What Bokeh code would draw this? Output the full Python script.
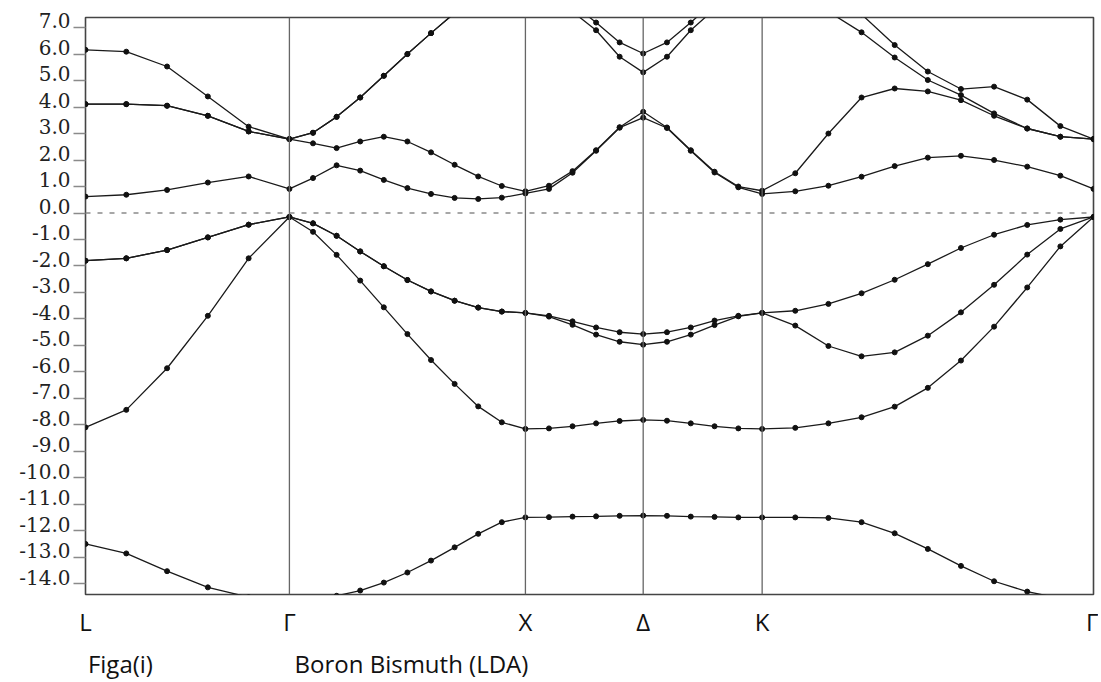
import numpy as np
from bokeh.plotting import figure
from bokeh.models import (Range1d, FixedTicker, PrintfTickFormatter, Span, LinearAxis,
                          CustomJSTickFormatter)
from bokeh.embed import file_html
from bokeh.resources import INLINE

# ---------------- data ----------------
K_LABELS = ["L", "Γ", "X", "Δ", "K", "Γ"]
K_POS = [0.0, 0.864, 1.864, 2.363, 2.867, 4.271]
SEG_POINTS = [5, 10, 5, 5, 10]
Y_TICKS = list(range(-14, 8))
CAPTIONS = ["Figa(i)", "Boron Bismuth (LDA)"]

# valence bands (eV), 36 k-points: L-G (6), G-X (10), X-D (5), D-K (5), K-G (10)
V0 = [-12.49, -12.85, -13.52, -14.13, -14.50, -14.70,
      -14.65, -14.45, -14.25, -13.95, -13.57, -13.12, -12.62, -12.11, -11.67, -11.49,
      -11.48, -11.46, -11.45, -11.43, -11.42,
      -11.43, -11.46, -11.47, -11.49, -11.49,
      -11.49, -11.51, -11.67, -12.09, -12.68, -13.32, -13.90, -14.29, -14.55, -14.70]
V1 = [-8.09, -7.43, -5.86, -3.88, -1.71, -0.15,
      -0.71, -1.58, -2.55, -3.56, -4.57, -5.55, -6.45, -7.30, -7.90, -8.15,
      -8.13, -8.05, -7.94, -7.85, -7.81,
      -7.84, -7.94, -8.05, -8.13, -8.15,
      -8.11, -7.94, -7.71, -7.31, -6.60, -5.57, -4.29, -2.81, -1.26, -0.15]
V2 = [-1.80, -1.71, -1.40, -0.92, -0.44, -0.15,
      -0.39, -0.86, -1.45, -2.01, -2.53, -2.96, -3.31, -3.57, -3.72, -3.77,
      -3.91, -4.22, -4.59, -4.86, -4.97,
      -4.86, -4.59, -4.23, -3.90, -3.77,
      -4.25, -5.02, -5.41, -5.26, -4.63, -3.75, -2.71, -1.57, -0.60, -0.15]
V3 = [-1.80, -1.71, -1.40, -0.92, -0.44, -0.15,
      -0.39, -0.86, -1.45, -2.01, -2.53, -2.96, -3.31, -3.57, -3.72, -3.77,
      -3.88, -4.09, -4.32, -4.50, -4.57,
      -4.50, -4.32, -4.06, -3.88, -3.77,
      -3.69, -3.43, -3.03, -2.52, -1.93, -1.32, -0.82, -0.45, -0.25, -0.15]
# conduction bands (eV)
C1 = [0.62, 0.69, 0.87, 1.15, 1.38, 0.91,
      1.32, 1.80, 1.60, 1.25, 0.94, 0.72, 0.57, 0.53, 0.58, 0.74,
      0.91, 1.52, 2.35, 3.22, 3.60,
      3.21, 2.35, 1.53, 0.97, 0.72,
      0.82, 1.03, 1.37, 1.77, 2.09, 2.16, 2.00, 1.75, 1.41, 0.91]
C2 = [4.11, 4.11, 4.05, 3.67, 3.08, 2.79,
      2.63, 2.45, 2.70, 2.88, 2.70, 2.29, 1.82, 1.38, 1.02, 0.82,
      1.03, 1.58, 2.37, 3.24, 3.82,
      3.23, 2.37, 1.56, 1.00, 0.84,
      1.50, 3.00, 4.36, 4.70, 4.59, 4.26, 3.67, 3.19, 2.88, 2.79]
C3 = [4.11, 4.11, 4.05, 3.67, 3.08, 2.79,
      3.03, 3.63, 4.36, 5.18, 6.00, 6.79, 7.55, 8.20, 8.70, 9.00,
      8.60, 7.60, 6.90, 5.90, 5.31,
      5.90, 6.90, 7.70, 8.40, 8.80,
      8.50, 7.60, 6.82, 5.87, 5.02, 4.45, 3.76, 3.19, 2.88, 2.79]
C4 = [6.16, 6.09, 5.53, 4.40, 3.26, 2.79,
      3.03, 3.63, 4.36, 5.18, 6.00, 6.79, 7.55, 8.20, 8.70, 9.00,
      8.90, 7.90, 7.19, 6.44, 6.02,
      6.44, 7.19, 8.00, 8.70, 9.10,
      8.90, 8.30, 7.50, 6.34, 5.34, 4.68, 4.77, 4.28, 3.28, 2.79]

BANDS = [V0, V1, V2, V3, C1, C2, C3, C4]

# k-point positions along the path
kx = [K_POS[0]]
for i, n in enumerate(SEG_POINTS):
    kx.extend(np.linspace(K_POS[i], K_POS[i + 1], n + 1)[1:].tolist())

Y_MIN, Y_MAX = -14.4, 7.38

# ---------------- figure ----------------
p = figure(width=1098, height=682,
           x_range=Range1d(K_POS[0], K_POS[-1]), y_range=Range1d(Y_MIN, Y_MAX),
           output_backend="svg", toolbar_location=None, title_location=None,
           min_border_left=85, min_border_top=17, min_border_right=5, min_border_bottom=88)
p.grid.visible = False
p.outline_line_color = "#444444"
p.outline_line_width = 1.6

# y axis: tick marks only (labels sit on a label-only axis, raised like the original)
ya = p.yaxis[0]
ya.ticker = FixedTicker(ticks=Y_TICKS)
ya.formatter = CustomJSTickFormatter(code="return ''")
ya.axis_line_color = None
ya.major_tick_out = 12
ya.major_tick_in = 0
ya.major_tick_line_color = "#8a8a8a"
ya.major_tick_line_width = 1.3
ya.minor_tick_line_color = None
ya.major_label_standoff = 0

LABEL_RAISE = 0.26  # eV; lifts each label so its baseline sits on its tick
p.extra_y_ranges = {"labels": Range1d(Y_MIN - LABEL_RAISE, Y_MAX - LABEL_RAISE)}
yl = LinearAxis(y_range_name="labels", ticker=FixedTicker(ticks=Y_TICKS),
                formatter=PrintfTickFormatter(format="%.1f"))
yl.axis_line_color = None
yl.major_tick_out = 0
yl.major_tick_in = 0
yl.major_tick_line_color = None
yl.minor_tick_line_color = None
yl.major_label_standoff = 3
yl.major_label_text_font = "DejaVu Serif"
yl.major_label_text_font_size = "20px"
yl.major_label_text_color = "#222222"
p.add_layout(yl, "left")

# x axis (k-point labels)
xa = p.xaxis[0]
xa.ticker = FixedTicker(ticks=K_POS)
xa.major_label_overrides = {pos: lab for pos, lab in zip(K_POS, K_LABELS)}
xa.axis_line_color = None
xa.major_tick_line_color = None
xa.major_tick_out = 0
xa.major_tick_in = 0
xa.minor_tick_line_color = None
xa.major_label_standoff = 10
xa.major_label_text_font = "Open Sans"
xa.major_label_text_font_size = "24px"
xa.major_label_text_color = "#111111"

# caption row below the k labels (label-only axis, centred under each caption's middle)
CAPTION_CENTRES = [0.148, 1.381]
xc = LinearAxis(ticker=FixedTicker(ticks=CAPTION_CENTRES))
xc.major_label_overrides = {pos: lab for pos, lab in zip(CAPTION_CENTRES, CAPTIONS)}
xc.axis_line_color = None
xc.major_tick_line_color = None
xc.major_tick_out = 0
xc.major_tick_in = 0
xc.minor_tick_line_color = None
xc.major_label_standoff = 6
xc.major_label_text_font = "Open Sans"
xc.major_label_text_font_size = "24px"
xc.major_label_text_color = "#111111"
p.add_layout(xc, "below")

# vertical lines at interior high-symmetry points
for pos in K_POS[1:-1]:
    p.add_layout(Span(location=pos, dimension="height", line_color="#666666", line_width=1.3))

# Fermi level
p.add_layout(Span(location=0, dimension="width", line_color="#8a8a8a",
                  line_width=1.3, line_dash="5 7"))

# bands
for band in BANDS:
    p.line(kx, band, line_color="#1a1a1a", line_width=1.3)
    p.scatter(kx, band, size=5, marker="circle", fill_color="#111111", line_color="#111111")

open("out.html", "w").write(file_html(p, INLINE))
